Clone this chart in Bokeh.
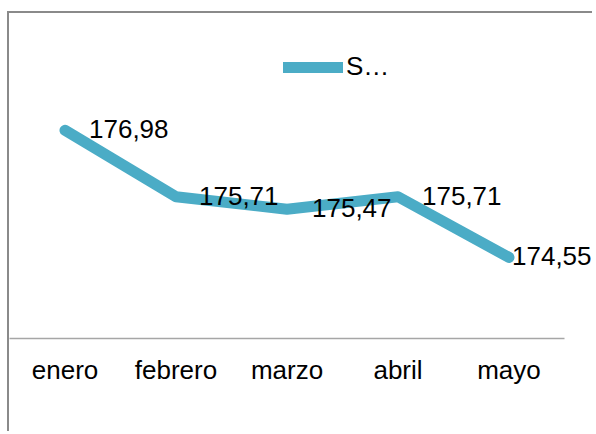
from bokeh.plotting import figure
from bokeh.models import Range1d, Legend, LegendItem, ColumnDataSource, LabelSet, FixedTicker
from bokeh.embed import file_html
from bokeh.resources import INLINE
from bokeh.core.properties import value

# ---- data ----
months = ["enero", "febrero", "marzo", "abril", "mayo"]
values = [176.98, 175.71, 175.47, 175.71, 174.55]
value_labels = ["176,98", "175,71", "175,47", "175,71", "174,55"]
series_name = "S…"

# ---- styles ----
LINE_COLOR = "#4BACC6"
FONT = "Liberation Sans"
label_dx = [24, 23, 25, 24, 3]   # horizontal offset of each data label (px)

# category centres on a numeric axis (each category one unit wide)
xpos = [i + 0.5 for i in range(len(months))]
src = ColumnDataSource(dict(x=xpos, value=values, label=value_labels, dx=label_dx))

W, H = 585, 420
PX_PER_CAT = 111
p = figure(width=W, height=H, title=None,
           x_range=Range1d(0, W / PX_PER_CAT), y_range=Range1d(173, 179.214),
           output_backend="svg", toolbar_location=None,
           x_axis_location="below", y_axis_location=None,
           min_border_left=0, min_border_right=0, min_border_top=0, min_border_bottom=95)

p.styles = {"border-left": "2px solid #8a8a8a", "border-top": "2px solid #8a8a8a",
            "margin-left": "7px", "margin-top": "11px"}

p.outline_line_color = None
p.grid.grid_line_color = None
p.background_fill_color = "white"
p.border_fill_color = "white"

ax = p.xaxis[0]
ax.ticker = FixedTicker(ticks=xpos)
ax.major_label_overrides = {x: m for x, m in zip(xpos, months)}
ax.bounds = (0, len(months))
ax.axis_line_color = "#a6a6a6"
ax.axis_line_width = 1.5
ax.major_tick_line_color = None
ax.minor_tick_line_color = None
ax.major_label_text_font = FONT
ax.major_label_text_font_size = "26px"
ax.major_label_text_color = "#000000"
ax.major_label_standoff = 10

r = p.line(x="x", y="value", source=src, line_width=11, line_color=LINE_COLOR,
           line_cap="round", line_join="round")

labels = LabelSet(x="x", y="value", text="label", source=src, x_offset="dx", y_offset=1,
                  text_font=value(FONT), text_font_size="26px", text_color="#000000",
                  text_align="left", text_baseline="middle")
p.add_layout(labels)

legend = Legend(items=[LegendItem(label=series_name, renderers=[r])],
                location=(274, 256), orientation="horizontal",
                padding=0, margin=0, spacing=0,
                glyph_width=60, glyph_height=20, label_standoff=3,
                label_text_font=FONT, label_text_font_size="26px",
                label_text_color="#000000",
                border_line_color=None, background_fill_alpha=0)
p.add_layout(legend, "center")

open("out.html", "w").write(file_html(p, INLINE))
